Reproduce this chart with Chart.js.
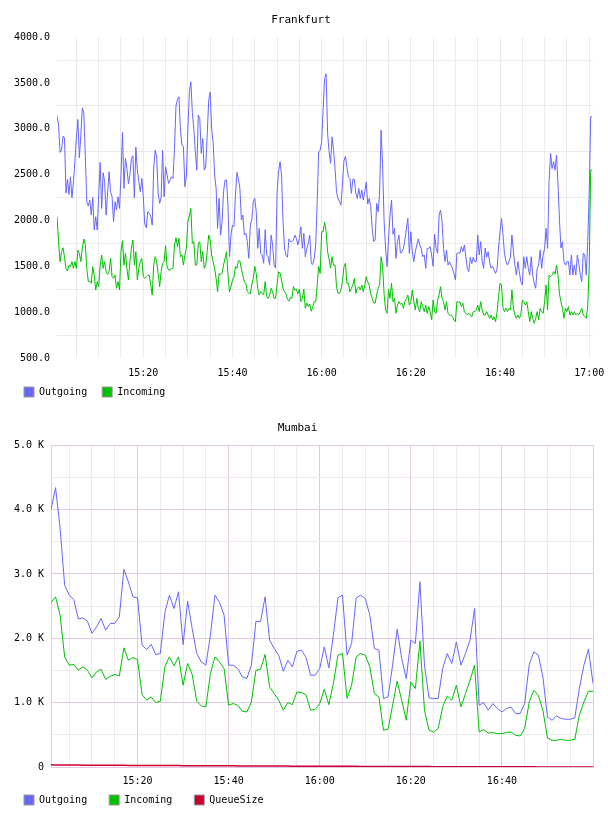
<!DOCTYPE html>
<html>
<head>
<meta charset="utf-8">
<script src="https://cdn.jsdelivr.net/npm/chart.js@4.4.1/dist/chart.umd.min.js"></script>
<style>
  html, body { margin: 0; background: #fff; overflow: hidden; }
  canvas { position: absolute; left: 0; }
</style>
</head>
<body>
<canvas id="fra" width="608" height="417" style="top:0"></canvas>
<canvas id="mum" width="608" height="426" style="top:407px"></canvas>
<script>
// Frankfurt: one sample every 20 s, first one at 15:00:40
const fraStartSec = 40;
const fraStepSec = 20;

const fraOutgoing = [
  3139, 3040, 2743, 2768, 2920, 2900, 2300, 2450, 2285, 2477,
  2248, 2423, 2650, 2900, 3102, 2684, 2932, 3230, 3168, 2700,
  2200, 2161, 2223, 2059, 2252, 1896, 2041, 1896, 2277, 2634,
  2132, 2521, 2423, 2059, 2300, 2532, 2314, 2259, 1987, 2205,
  2114, 2259, 2132, 2500, 2961, 2350, 2677, 2568, 2400, 2500,
  2677, 2706, 2250, 2800, 2550, 2423, 2314, 2459, 2259, 1960,
  1921, 2096, 2080, 2050, 1950, 2568, 2768, 2695, 2300, 2187,
  2250, 2768, 2259, 2586, 2496, 2405, 2441, 2477, 2459, 2800,
  3250, 3320, 3350, 2986, 2823, 2804, 2368, 2496, 3000, 3400,
  3513, 3180, 3000, 2750, 2550, 3150, 3113, 2732, 2895, 2550,
  2586, 2932, 3313, 3400, 3000, 2850, 2500, 2350, 1914, 2241,
  1841, 1987, 2314, 2441, 2441, 2150, 1605, 1841, 1950, 1932,
  2277, 2525, 2450, 2350, 2005, 2059, 1841, 1860, 1769, 1587,
  1950, 2005, 2205, 2241, 2096, 1696, 1914, 1642, 1624, 1533,
  1900, 1624, 1605, 1514, 1841, 1733, 1514, 1480, 2300, 2532,
  2641, 2500, 2000, 1700, 1620, 1600, 1800, 1769, 1769, 1787,
  1841, 1805, 1733, 1805, 1932, 1696, 1860, 1605, 1696, 1750,
  1841, 1533, 1522, 1587, 1733, 2205, 2750, 2768, 2859, 3222,
  3550, 3600, 2950, 2750, 2623, 2913, 2768, 2568, 2314, 2241,
  2205, 2168, 2400, 2650, 2700, 2580, 2477, 2459, 2296, 2450,
  2450, 2300, 2241, 2350, 2241, 2332, 2223, 2314, 2420, 2180,
  2241, 2150, 1914, 1769, 1787, 2187, 2096, 2300, 2986, 2600,
  2000, 1700, 1496, 1800, 2059, 2223, 1850, 1914, 1587, 1769,
  1841, 1642, 1660, 1696, 1787, 1914, 2023, 1642, 1878, 1660,
  1551, 1660, 1733, 1800, 1733, 1696, 1605, 1624, 1478, 1696,
  1696, 1714, 1624, 1500, 1850, 1696, 1642, 2059, 2114, 1987,
  1696, 1551, 1678, 1514, 1551, 1514, 1478, 1423, 1351, 1642,
  1650, 1640, 1714, 1660, 1733, 1605, 1478, 1442, 1600, 1530,
  1600, 1551, 1551, 1842, 1624, 1769, 1551, 1478, 1700, 1600,
  1660, 1551, 1478, 1500, 1460, 1423, 1470, 1700, 1878, 2023,
  1842, 1642, 1551, 1514, 1551, 1600, 1842, 1660, 1514, 1405,
  1551, 1442, 1333, 1296, 1605, 1478, 1605, 1478, 1405, 1605,
  1405, 1315, 1260, 1478, 1514, 1678, 1478, 1624, 1696, 1914,
  1696, 2423, 2732, 2568, 2641, 2550, 2714, 2400, 2000, 1700,
  1769, 1551, 1514, 1551, 1551, 1405, 1624, 1405, 1514, 1405,
  1624, 1533, 1405, 1333, 1642, 1624, 1405, 1769, 2300, 3132,
  3132
];

const fraIncoming = [
  2041, 1769, 1551, 1660, 1703, 1600, 1478, 1450, 1514, 1496,
  1551, 1478, 1551, 1478, 1678, 1642, 1551, 1700, 1798, 1740,
  1478, 1333, 1340, 1315, 1496, 1405, 1242, 1333, 1278, 1514,
  1624, 1478, 1551, 1442, 1413, 1442, 1587, 1387, 1369, 1405,
  1260, 1333, 1242, 1660, 1780, 1514, 1642, 1478, 1351, 1550,
  1696, 1787, 1514, 1660, 1351, 1478, 1551, 1587, 1387, 1369,
  1387, 1400, 1405, 1300, 1187, 1514, 1605, 1551, 1423, 1278,
  1442, 1533, 1551, 1725, 1496, 1460, 1460, 1478, 1478, 1733,
  1812, 1714, 1805, 1605, 1624, 1514, 1624, 1700, 1987, 2050,
  2132, 1751, 1769, 1514, 1514, 1751, 1769, 1551, 1660, 1478,
  1514, 1660, 1842, 1787, 1624, 1551, 1478, 1369, 1224, 1423,
  1405, 1423, 1514, 1587, 1660, 1400, 1224, 1278, 1351, 1380,
  1500, 1478, 1560, 1560, 1470, 1400, 1326, 1315, 1224, 1206,
  1200, 1296, 1369, 1500, 1420, 1260, 1187, 1224, 1206, 1187,
  1333, 1169, 1151, 1187, 1260, 1224, 1151, 1151, 1300, 1440,
  1430, 1350, 1260, 1224, 1200, 1140, 1120, 1160, 1151, 1280,
  1240, 1250, 1200, 1250, 1115, 1151, 1250, 1042, 1100, 1060,
  1090, 1010, 1060, 1115, 1115, 1296, 1500, 1423, 1878, 1878,
  1980, 1880, 1660, 1580, 1480, 1605, 1514, 1514, 1278, 1206,
  1206, 1242, 1333, 1496, 1533, 1315, 1315, 1224, 1260, 1296,
  1369, 1206, 1260, 1278, 1242, 1296, 1224, 1296, 1387, 1330,
  1296, 1200, 1151, 1100, 1100, 1187, 1260, 1300, 1605, 1500,
  1200, 1024, 988, 1250, 1151, 1315, 1115, 1151, 988, 1078,
  1115, 1086, 1097, 1042, 1115, 1151, 1187, 1078, 1115, 1240,
  1115, 1024, 1151, 1042, 1006, 1115, 1060, 1006, 1078, 988,
  1060, 1006, 915, 1133, 1006, 988, 1133, 1190, 1278, 1151,
  1115, 1024, 1115, 988, 969, 969, 951, 915, 897, 1115,
  1105, 1115, 1060, 1097, 1006, 988, 969, 988, 969, 951,
  1006, 1006, 1024, 1078, 1006, 1115, 1024, 969, 969, 1006,
  969, 933, 969, 915, 951, 897, 1000, 1169, 1315, 1296,
  1042, 1006, 1042, 1006, 1042, 1024, 1242, 1042, 969, 933,
  969, 933, 969, 1133, 1115, 1078, 1115, 1006, 897, 1006,
  933, 878, 933, 1006, 915, 1042, 1006, 988, 1115, 1296,
  1024, 1405, 1387, 1405, 1442, 1413, 1514, 1405, 1200, 1115,
  1042, 933, 1042, 1006, 1060, 969, 1006, 969, 1006, 969,
  988, 969, 1006, 1042, 969, 951, 933, 1060, 1500, 2550,
  2550
];

// Mumbai: one sample a minute, 15:01 .. 17:00
const mumFirstMinute = 1;
const mumOutgoing = [
  4000, 4340, 3707, 2826, 2670, 2603, 2300, 2317, 2266, 2075,
  2177, 2308, 2126, 2230, 2230, 2333, 3070, 2877, 2644, 2628,
  1893, 1826, 1904, 1748, 1764, 2400, 2670, 2463, 2722, 1900,
  2577, 2150, 1764, 1633, 1582, 2048, 2670, 2557, 2360, 1582,
  1582, 1530, 1400, 1375, 1582, 2266, 2255, 2644, 1970, 1841,
  1737, 1488, 1659, 1555, 1799, 1815, 1700, 1426, 1426, 1530,
  1866, 1540, 2048, 2628, 2670, 1737, 1919, 2628, 2670, 2619,
  2360, 1841, 1815, 1064, 1089, 1582, 2141, 1686, 1375, 1970,
  1919, 2877, 1582, 1073, 1064, 1064, 1530, 1764, 1608, 1944,
  1582, 1764, 1970, 2463, 960, 1001, 882, 986, 908, 855,
  908, 933, 830, 830, 986, 1593, 1789, 1737, 1400, 778,
  726, 793, 753, 742, 742, 762, 1219, 1582, 1830, 1297
];
const mumIncoming = [
  2557, 2644, 2360, 1711, 1582, 1593, 1504, 1555, 1504, 1384,
  1477, 1519, 1359, 1410, 1437, 1415, 1851, 1659, 1701, 1670,
  1126, 1037, 1089, 1001, 1022, 1555, 1711, 1571, 1711, 1271,
  1608, 1437, 1022, 949, 933, 1453, 1711, 1633, 1530, 960,
  986, 960, 866, 855, 1011, 1504, 1519, 1748, 1244, 1141,
  1037, 882, 1001, 970, 1166, 1157, 1120, 882, 893, 986,
  1208, 970, 1297, 1737, 1764, 1064, 1271, 1711, 1764, 1737,
  1555, 1141, 1089, 571, 586, 960, 1333, 1037, 726, 1322,
  1219, 1955, 882, 571, 544, 597, 933, 1104, 1037, 1271,
  933, 1141, 1348, 1582, 544, 581, 529, 535, 519, 519,
  535, 544, 493, 482, 597, 1011, 1193, 1115, 882, 451,
  415, 415, 431, 415, 415, 431, 804, 1011, 1177, 1177
];
const mumQueueSize = [
  34, 33, 32, 31, 31, 30, 30, 29, 29, 28,
  28, 27, 27, 27, 26, 26, 26, 25, 25, 25,
  24, 24, 24, 23, 23, 23, 22, 22, 22, 21,
  21, 21, 20, 20, 20, 19, 19, 19, 18, 18,
  18, 17, 17, 17, 16, 16, 16, 15, 15, 15,
  14, 14, 14, 13, 13, 13, 12, 12, 12, 12,
  11, 11, 11, 11, 10, 10, 10, 10, 9, 9,
  9, 9, 8, 8, 8, 8, 7, 7, 7, 7,
  6, 6, 6, 6, 5, 5, 5, 5, 5, 4,
  4, 4, 4, 4, 3, 3, 3, 3, 3, 3,
  2, 2, 2, 2, 2, 2, 2, 1, 1, 1,
  1, 1, 1, 1, 0, 0, 0, 0, 0, 0
];

// time axis: a grid line every 5 minutes, a label every 20
const gridMinutes = Array.from({ length: 24 }, (_, i) => 5 + i * 5);
const fraTimeTicks = [20, 40, 60, 80, 100, 120];
const fraTimeLabels = ['15:20', '15:40', '16:00', '16:20', '16:40', '17:00'];
const mumTimeTicks = [20, 40, 60, 80, 100];
const mumTimeLabels = ['15:20', '15:40', '16:00', '16:20', '16:40'];

const C_OUT = '#6666ff';
const C_IN = '#00c000';
const C_QUEUE = '#cc0033';
const GRID = '#ebebeb';
const PINK = '#e3c8e3';

Chart.defaults.font.family = "'DejaVu Sans Mono', monospace";
Chart.defaults.font.size = 10;
Chart.defaults.color = '#000';

const fraPoints = arr => arr.map((v, i) => ({ x: (fraStartSec + i * fraStepSec) / 60, y: v }));
const mumPoints = arr => arr.map((v, i) => ({ x: mumFirstMinute + i, y: v }));

const legendItems = chart => chart.data.datasets.map((d, i) => ({
  text: d.label,
  fillStyle: d.borderColor,
  strokeStyle: '#999',
  lineWidth: 1,
  hidden: false,
  datasetIndex: i,
  fontColor: '#000'
}));

// pull the legend up under the axis labels, keeping its wide item spacing
const legendAt = boxTop => ({
  id: 'legendAt',
  afterLayout(chart) {
    const lg = chart.legend;
    const dy = boxTop - (lg.top + lg.options.labels.padding);
    lg.top += dy;
    lg.bottom += dy;
  }
});

const setMinuteTicks = scale => { scale.ticks = gridMinutes.map(v => ({ value: v })); };
// fixed height, and let the last label hang over the edge instead of shrinking the plot
const fitTimeAxis = s => { s.height = 24; s.paddingLeft = 0; s.paddingRight = 0; };

const lineSet = (label, pts, color, w) => ({
  label: label, data: pts, borderColor: color, backgroundColor: color,
  borderWidth: w || 1, pointRadius: 0, tension: 0, fill: false
});

new Chart(document.getElementById('fra'), {
  type: 'line',
  data: {
    datasets: [
      lineSet('Outgoing', fraPoints(fraOutgoing), C_OUT),
      lineSet('Incoming', fraPoints(fraIncoming), C_IN)
    ]
  },
  plugins: [legendAt(387)],
  options: {
    responsive: false,
    animation: false,
    layout: { padding: { left: 9, right: 15, top: 0, bottom: 0 } },
    scales: {
      x: {
        type: 'linear', min: 0.65, max: 120.85, bounds: 'data',
        afterBuildTicks: setMinuteTicks,
        afterFit: fitTimeAxis,
        border: { display: false },
        grid: { drawTicks: false, color: GRID },
        ticks: {
          autoSkip: false, maxRotation: 0, padding: 9,
          callback: v => { const i = fraTimeTicks.indexOf(v); return i < 0 ? '' : fraTimeLabels[i]; }
        }
      },
      y: {
        min: 500, max: 4000,
        afterFit: s => { s.width = 48; },
        border: { display: false },
        grid: { drawTicks: false, color: c => (c.tick && c.tick.value % 500 === 0) ? 'transparent' : GRID },
        ticks: { stepSize: 250, padding: 7, callback: v => v % 500 === 0 ? v.toFixed(1) : '' }
      }
    },
    plugins: {
      title: { display: true, text: 'Frankfurt', color: '#000', font: { size: 11, weight: 'normal' }, padding: { top: 14, bottom: 10 } },
      legend: { position: 'bottom', align: 'start', labels: { boxWidth: 10, boxHeight: 10, padding: 15, generateLabels: legendItems } },
      tooltip: { enabled: false }
    }
  }
});

new Chart(document.getElementById('mum'), {
  type: 'line',
  data: {
    datasets: [
      lineSet('Outgoing', mumPoints(mumOutgoing), C_OUT),
      lineSet('Incoming', mumPoints(mumIncoming), C_IN),
      lineSet('QueueSize', mumPoints(mumQueueSize), C_QUEUE, 1.5)
    ]
  },
  plugins: [legendAt(388)],
  options: {
    responsive: false,
    animation: false,
    layout: { padding: { left: 2, right: 15, top: 0, bottom: 0 } },
    scales: {
      x: {
        type: 'linear', min: 1, max: 120, bounds: 'data',
        afterBuildTicks: setMinuteTicks,
        afterFit: fitTimeAxis,
        border: { display: true, color: PINK, width: 1 },
        grid: {
          drawTicks: false,
          color: c => (c.tick && c.tick.value % 20 === 0) ? PINK : GRID
        },
        ticks: {
          autoSkip: false, maxRotation: 0, padding: 8,
          callback: v => { const i = mumTimeTicks.indexOf(v); return i < 0 ? '' : mumTimeLabels[i]; }
        }
      },
      y: {
        min: 0, max: 5000,
        afterFit: s => { s.width = 49; },
        border: { display: true, color: PINK, width: 1 },
        grid: { drawTicks: false, color: c => (c.tick && c.tick.value % 1000 === 0) ? PINK : GRID },
        ticks: {
          stepSize: 500, padding: 7,
          callback: v => v === 0 ? '0' : (v % 1000 === 0 ? (v / 1000).toFixed(1) + ' K' : '')
        }
      }
    },
    plugins: {
      title: { display: true, text: 'Mumbai', color: '#000', font: { size: 11, weight: 'normal' }, padding: { top: 15, bottom: 10 } },
      legend: { position: 'bottom', align: 'start', labels: { boxWidth: 10, boxHeight: 10, padding: 22, generateLabels: legendItems } },
      tooltip: { enabled: false }
    }
  }
});
</script>
</body>
</html>
